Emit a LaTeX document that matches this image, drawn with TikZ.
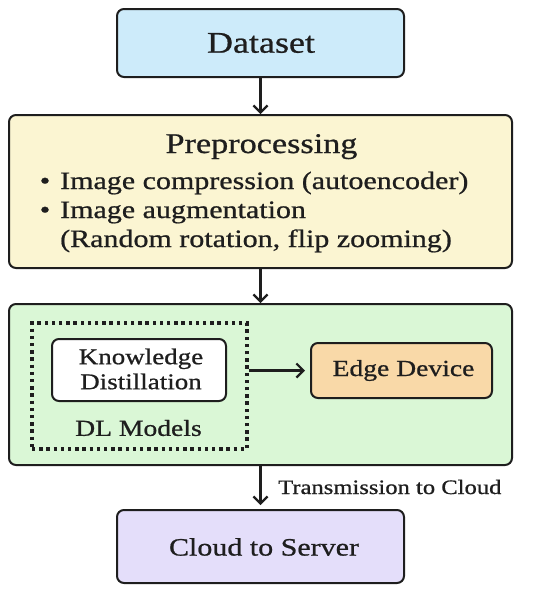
\documentclass[tikz,border=0pt]{standalone}
\usepackage{fontspec}
\setmainfont[FakeStretch=1.2,FakeBold=0.8]{Liberation Serif}
\usetikzlibrary{arrows.meta}
\definecolor{cblue}{HTML}{CDEBFA}
\definecolor{cyellow}{HTML}{FBF5D2}
\definecolor{cgreen}{HTML}{DAF7D6}
\definecolor{corange}{HTML}{F9D9A8}
\definecolor{cpurple}{HTML}{E4DEFA}
\definecolor{cline}{HTML}{1E1E1E}
\tikzset{
  box/.style={draw=cline, line width=2pt, rounded corners=7pt, inner sep=0pt},
  arr/.style={draw=cline, line width=2.2pt, -{Straight Barb[length=7pt,width=14pt,line width=2.2pt]}},
  dotbox/.style={draw=cline, line width=3.4pt, dash pattern=on 3.4pt off 3.8pt, inner sep=0pt},
  txt/.style={inner sep=0pt, text=cline}
}
\begin{document}
\begin{tikzpicture}[x=1pt,y=-1pt]
\useasboundingbox (0,0) rectangle (550,592);
% boxes
\node[box, fill=cblue, minimum width=287pt, minimum height=68pt] (ds) at (260.5,43) {};
\node[txt, font=\fontsize{30}{34}\selectfont] (dst) at (261,43) {Dataset};
\node[box, fill=cyellow, minimum width=503pt, minimum height=153pt] (pp) at (260.5,191.5) {};
\node[txt, anchor=base, font=\fontsize{28.5}{33}\selectfont] (ppt) at (261.5,153) {Preprocessing};
\node[txt, anchor=base, font=\fontsize{25}{29}\selectfont] (b1) at (45,189) {•};
\node[txt, anchor=base west, font=\fontsize{25}{29}\selectfont] (l1) at (60,189) {Image compression (autoencoder)};
\node[txt, anchor=base, font=\fontsize{25}{29}\selectfont] (b2) at (45,218) {•};
\node[txt, anchor=base west, font=\fontsize{25}{29}\selectfont] (l2) at (60,218) {Image augmentation};
\node[txt, anchor=base west, font=\fontsize{25}{29}\selectfont] (l3) at (60,247) {(Random rotation, flip zooming)};
\node[box, fill=cgreen, minimum width=503pt, minimum height=161pt] (gr) at (260.5,384.5) {};
\node[dotbox, minimum width=215pt, minimum height=126pt] (dl) at (139.5,386) {};
\node[box, fill=white, minimum width=174pt, minimum height=62pt] (kd) at (139,370) {};
\node[txt, align=center, font=\fontsize{22.5}{25}\selectfont] (kdt) at (141,369) {Knowledge\\Distillation};
\node[txt, font=\fontsize{23}{27}\selectfont] (dlm) at (138.5,428) {DL Models};
\node[box, fill=corange, minimum width=181pt, minimum height=55pt] (ed) at (401.5,370.5) {};
\node[txt, font=\fontsize{23}{27}\selectfont] (edt) at (403.5,370.5) {Edge Device};
\node[box, fill=cpurple, minimum width=287pt, minimum height=73pt] (cs) at (260.5,546.5) {};
\node[txt, font=\fontsize{25}{29}\selectfont] (cst) at (264,547) {Cloud to Server};
\node[txt, anchor=west, font=\fontsize{20.5}{24}\selectfont] (tr) at (278,487) {Transmission to Cloud};
% connectors
\draw[arr] (ds.south) -- (pp.north);
\draw[arr] (pp.south) -- (gr.north);
\draw[arr, shorten >=5pt] (dl.east |- ed.west) -- (ed.west);
\draw[arr, shorten >=4pt] (gr.south) -- (cs.north);
\end{tikzpicture}
\end{document}
